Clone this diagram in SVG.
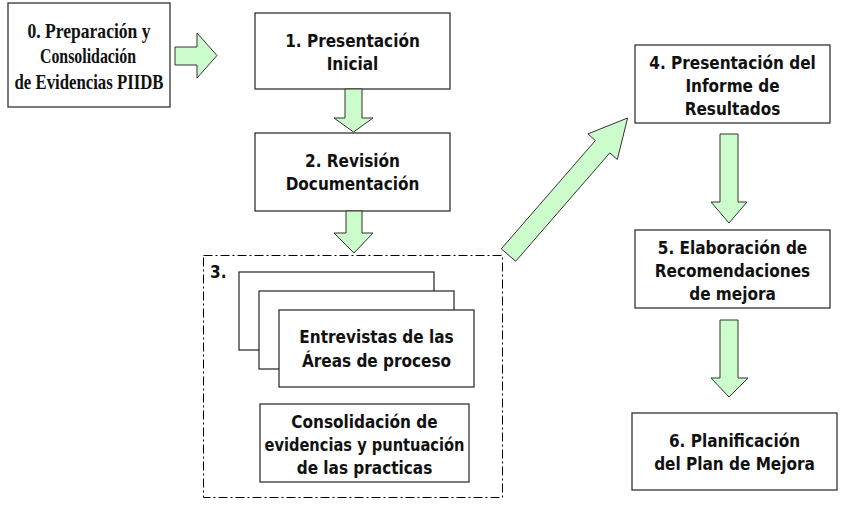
<svg xmlns="http://www.w3.org/2000/svg" width="851" height="516" viewBox="0 0 851 516">
<style>
.box{fill:#fff;stroke:#222;stroke-width:1.2}
.arr{fill:#ccfccc;stroke:#333;stroke-width:1}
.t{font-family:"DejaVu Sans Condensed","DejaVu Sans",sans-serif;font-stretch:condensed;font-weight:bold;font-size:17px;fill:#111;text-anchor:middle}
.s{font-family:"Liberation Serif","Times New Roman",serif;font-weight:bold;font-size:21px;fill:#111;text-anchor:middle}
.dash{fill:none;stroke:#000;stroke-width:1;stroke-dasharray:9 3 2 3}
</style>
<rect x="0" y="0" width="851" height="516" fill="#fff"/>
<g id="node0">
<rect class="box" x="8" y="3" width="162" height="104"/>
<text class="s" x="89" y="38" textLength="123" lengthAdjust="spacingAndGlyphs">0. Preparación y</text>
<text class="s" x="88" y="63" textLength="96" lengthAdjust="spacingAndGlyphs">Consolidación</text>
<text class="s" x="89" y="89" textLength="149" lengthAdjust="spacingAndGlyphs">de Evidencias PIIDB</text>
</g>
<g id="node1">
<rect class="box" x="255" y="13" width="195" height="76"/>
<text class="t" x="352.5" y="47">1. Presentación</text>
<text class="t" x="352.5" y="70">Inicial</text>
</g>
<g id="node2">
<rect class="box" x="255" y="133" width="195" height="78"/>
<text class="t" x="352.5" y="167">2. Revisión</text>
<text class="t" x="352.5" y="190">Documentación</text>
</g>
<g id="node3">
<rect class="dash" x="203.5" y="255.5" width="299" height="242"/>
<text class="t" x="210" y="278" style="text-anchor:start">3.</text>
<rect class="box" x="239" y="272" width="195" height="78"/>
<rect class="box" x="259" y="291" width="195" height="78"/>
<g id="node3a">
<rect class="box" x="279" y="310" width="195" height="77"/>
<text class="t" x="376.5" y="343">Entrevistas de las</text>
<text class="t" x="376.5" y="367">Áreas de proceso</text>
</g>
<g id="node3b">
<rect class="box" x="260" y="404" width="209" height="78"/>
<text class="t" x="364.5" y="428">Consolidación de</text>
<text class="t" x="364.5" y="451" textLength="200" lengthAdjust="spacingAndGlyphs">evidencias y puntuación</text>
<text class="t" x="364.5" y="474">de las practicas</text>
</g>
</g>
<g id="node4">
<rect class="box" x="635" y="45" width="195" height="78"/>
<text class="t" x="732.5" y="69">4. Presentación del</text>
<text class="t" x="732.5" y="92">Informe de</text>
<text class="t" x="732.5" y="115">Resultados</text>
</g>
<g id="node5">
<rect class="box" x="635" y="230" width="195" height="78"/>
<text class="t" x="732.5" y="254">5. Elaboración de</text>
<text class="t" x="732.5" y="277">Recomendaciones</text>
<text class="t" x="732.5" y="300">de mejora</text>
</g>
<g id="node6">
<rect class="box" x="632" y="413" width="205" height="77"/>
<text class="t" x="734.5" y="447">6. Planificación</text>
<text class="t" x="734.5" y="470">del Plan de Mejora</text>
</g>
<g id="connectors">
<polygon class="arr" points="175,47 197,47 197,33 217,55.5 197,78 197,65 175,65"/>
<polygon class="arr" points="345,89 362,89 362,118 373,118 353.5,132 334,118 345,118"/>
<polygon class="arr" points="346,211 362,211 362,233 373,233 354,253 334,233 346,233"/>
<polygon class="arr" points="501.3,248.8 595.4,140.5 587.9,133.9 627.6,118 617.3,159.5 609.8,152.9 515.7,261.2"/>
<polygon class="arr" points="720,134 738,134 738,202 747,202 729,223 711,202 720,202"/>
<polygon class="arr" points="720,320 738,320 738,378 748,378 729,397 711,378 720,378"/>
</g>
</svg>
